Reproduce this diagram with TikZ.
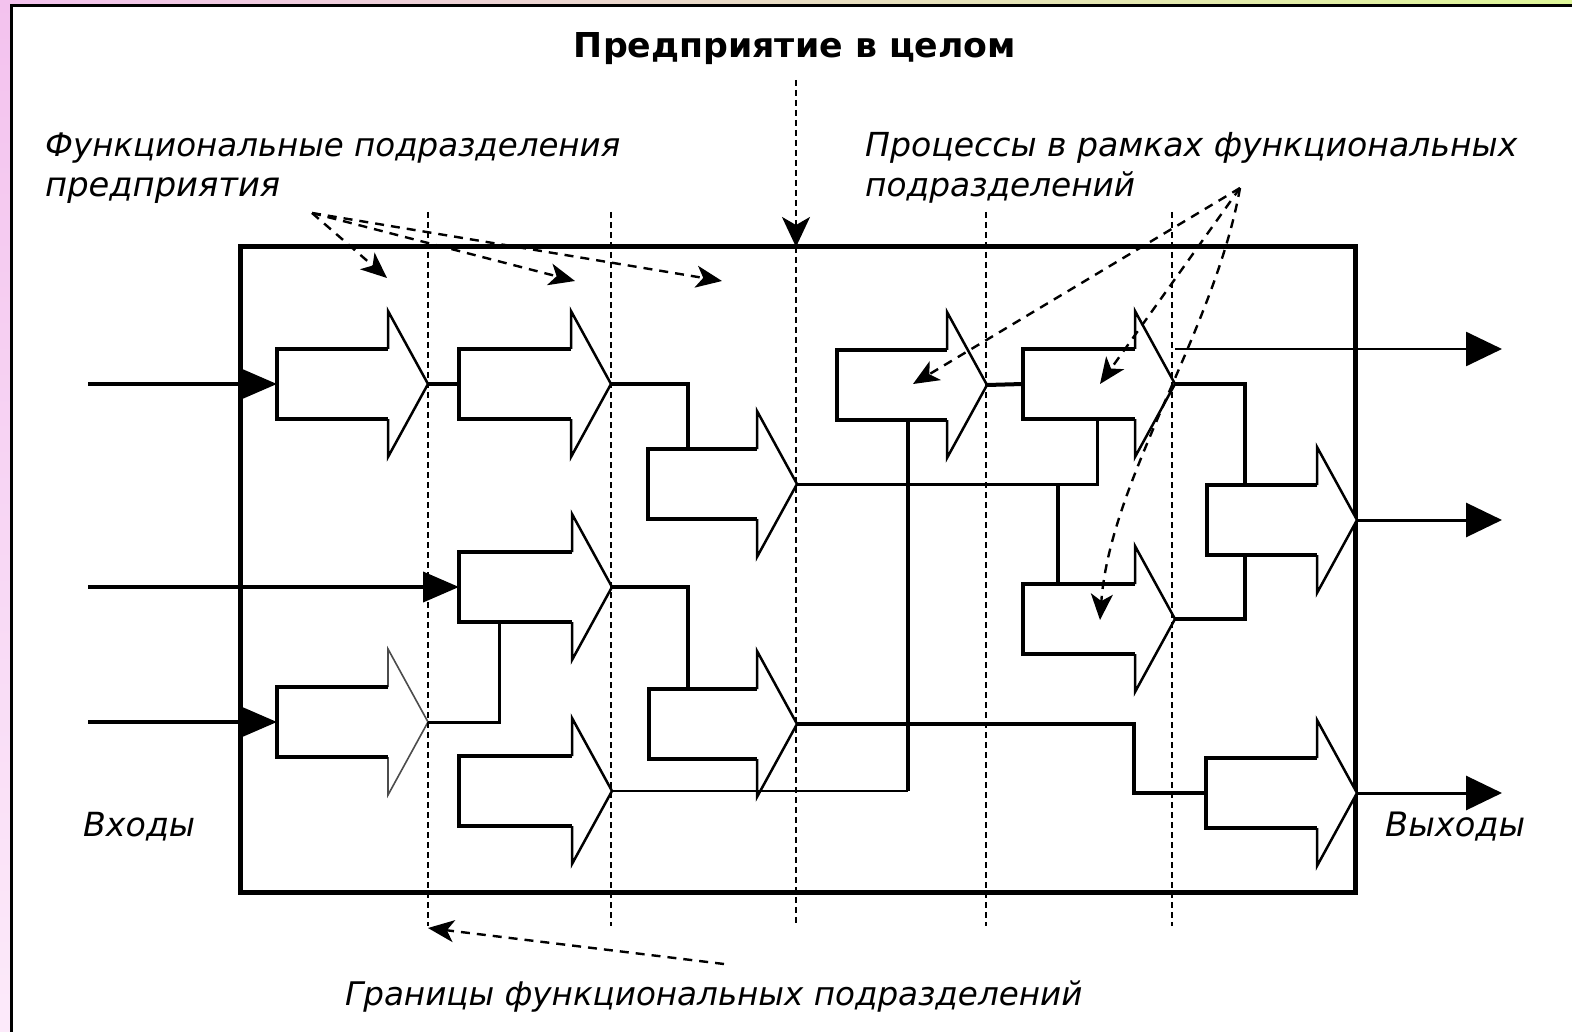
\documentclass[tikz,border=0pt]{standalone}
\usepackage{fontspec}
\usepackage{graphicx}
\setmainfont{DejaVu Sans}
\usetikzlibrary{arrows.meta}

\definecolor{pinktop}{RGB}{243,194,238}
\definecolor{pinkbot}{RGB}{252,234,250}
\definecolor{limetop}{RGB}{222,246,152}
\definecolor{paletop}{RGB}{246,238,238}

% Block arrow of a process: open body (thick) + head (thin).
% #1 extra head style, #2 name, #3 left x, #4 tip x, #5 centre y
\newcommand{\procarrow}[5][]{%
  \fill[white] (#3,#5-35) -- (#4-40,#5-35) -- (#4-40,#5-73) -- (#4,#5)
       -- (#4-40,#5+73) -- (#4-40,#5+35) -- (#3,#5+35) -- cycle;
  \draw[head,#1] (#4-40,#5-35) -- (#4-40,#5-73) -- (#4,#5)
       -- (#4-40,#5+73) -- (#4-40,#5+35);
  \draw[body] (#4-40,#5-35) -- (#3,#5-35) -- (#3,#5+35) -- (#4-40,#5+35);
  \coordinate (#2-w) at (#3,#5);
  \coordinate (#2-e) at (#4,#5);
  \coordinate (#2-nw) at (#3,#5-35);
  \coordinate (#2-sw) at (#3,#5+35);
}

\begin{document}
\begin{tikzpicture}[x=1pt,y=-1pt,
  body/.style={line width=4.8pt, line join=miter},
  head/.style={line width=2.5pt, line join=miter},
  faint/.style={line width=1.6pt, draw=black!70},
  wire/.style={line width=4pt},
  fine/.style={line width=3pt},
  inflow/.style={line width=4pt, -{Triangle[length=36pt,width=30pt]}},
  outflow/.style={line width=3pt, -{Triangle[length=36pt,width=34pt]}},
  divider/.style={line width=2.6pt, dash pattern=on 6pt off 4pt},
  note/.style={line width=2.4pt, dash pattern=on 9pt off 7pt},
  notetip/.style={-{Stealth[length=26pt,width=22pt,inset=7pt]}},
  lbl/.style={anchor=base west, inner sep=0pt, font=\itshape},
]
\useasboundingbox (0,0) rectangle (1572,1032);

% frame of the slide
\fill[white] (0,0) rectangle (1572,1032);
\shade[top color=pinktop, bottom color=pinkbot] (0,0) rectangle (10,1032);
\shade[left color=pinktop, middle color=paletop, right color=limetop] (0,0) rectangle (1572,5);
\draw[line width=3pt] (11,1032) -- (11,6) -- (1572,6);

% the enterprise as a whole
\draw[line width=5pt] (240,247) rectangle (1355,892);

% processes
\procarrow{A1}{277}{428}{384}
\procarrow{A2}{459}{611}{384}
\procarrow{A3}{648}{797}{484}
\procarrow{A4}{837}{987}{385}
\procarrow{A5}{1023}{1175}{384}
\procarrow{A6}{459}{612}{587}
\procarrow{A7}{1023}{1175}{619}
\procarrow{A8}{1207}{1357}{520}
\procarrow[faint]{A11}{277}{428}{722}
\procarrow{A9}{649}{797}{724}
\procarrow{A12}{459}{612}{791}
\procarrow{A10}{1206}{1357}{793}

% inputs
\coordinate (in1) at (88,384);
\coordinate (in2) at (88,587);
\coordinate (in3) at (88,722);
\draw[inflow] (in1) -- (A1-w);
\draw[inflow] (in2) -- (A6-w);
\draw[inflow] (in3) -- (A11-w);

% links between processes
\draw[wire] (A1-e) -- (A2-w);
\draw[wire] (A2-e) -| ([xshift=40pt]A3-nw);
\draw[fine] (A3-e) -| ([xshift=74pt]A5-sw);
\coordinate (j7) at ([xshift=35pt]A7-nw);
\draw[wire] (j7) -- (j7 |- A3-e);
\draw[wire] (A4-e) -- (A5-w);
\coordinate (j4) at ([xshift=71pt]A4-sw);
\draw[line width=2.6pt] (A12-e) -- (A12-e -| j4);
\draw[wire] (j4) -- (A12-e -| j4);
\draw[wire] (A5-e) -| ([xshift=38pt]A8-nw);
\draw[wire] (A7-e) -| ([xshift=38pt]A8-sw);
\draw[wire] (A6-e) -| ([xshift=39pt]A9-nw);
\coordinate (j6) at ([xshift=40pt]A6-sw);
\draw[fine] (A11-e) -| (j6);
\draw[wire] (A9-e) -| ([xshift=-72pt]A10-w) -- (A10-w);

% outputs
\coordinate (o1s) at (1175,349);
\coordinate (o1) at (1502,349);
\coordinate (o2) at (1502,520);
\coordinate (o3) at (1502,793);
\draw[outflow, line width=2.6pt] (o1s) -- (o1);
\draw[outflow] (A8-e) -- (o2);
\draw[outflow] (A10-e) -- (o3);

% boundaries of the functional units
\foreach \x in {428,611,986,1172}
  \draw[divider] (\x,212) -- (\x,926);
\coordinate (ttl-o) at (796,80);
\coordinate (ttl-e) at (796,247);
\coordinate (ttl-b) at (796,926);
\draw[divider, -{Stealth[length=30pt,width=28pt,inset=8pt]}] (ttl-o) -- (ttl-e);
\draw[divider] (ttl-e) -- (ttl-b);

% texts
\node[anchor=base, inner sep=0pt] (title) at (795,58)
  {\resizebox{442pt}{25pt}{\bfseries Предприятие в целом}};
\node[lbl] (fu1) at (45,157) {\resizebox{575pt}{!}{Функциональные подразделения}};
\node[lbl] (fu2) at (45,197) {\resizebox{235pt}{!}{предприятия}};
\node[lbl] (pr1) at (865,157) {\resizebox{652pt}{!}{Процессы в рамках функциональных}};
\node[lbl] (pr2) at (865,197) {\resizebox{270pt}{!}{подразделений}};
\node[lbl] (inl) at (83,836) {\resizebox{112pt}{!}{Входы}};
\node[lbl] (outl) at (1385,836) {\resizebox{140pt}{!}{Выходы}};
\node[lbl] (grl) at (345,1005) {\resizebox{737pt}{!}{Границы функциональных подразделений}};

% pointers from the captions
\coordinate (fo) at (312,213);
\coordinate (fa) at (387,278);
\coordinate (fb) at (575,281);
\coordinate (fc) at (722,281);
\draw[note, notetip] (fo) -- (fa);
\draw[note, notetip] (fo) -- (fb);
\draw[note, notetip] (fo) -- (fc);

\coordinate (po) at (1240,188);
\coordinate (pa) at (913,384);
\coordinate (pb) at (1100,384);
\coordinate (pc) at (1100,620);
\draw[note, notetip] (po) -- (pa);
\draw[note, notetip] (po) -- (pb);
\draw[note, notetip] (po) .. controls (1215,330) and (1110,480) .. (pc);

\coordinate (go) at (724,964);
\coordinate (ge) at (428,928);
\draw[note, notetip] (go) -- (ge);
\end{tikzpicture}
\end{document}
